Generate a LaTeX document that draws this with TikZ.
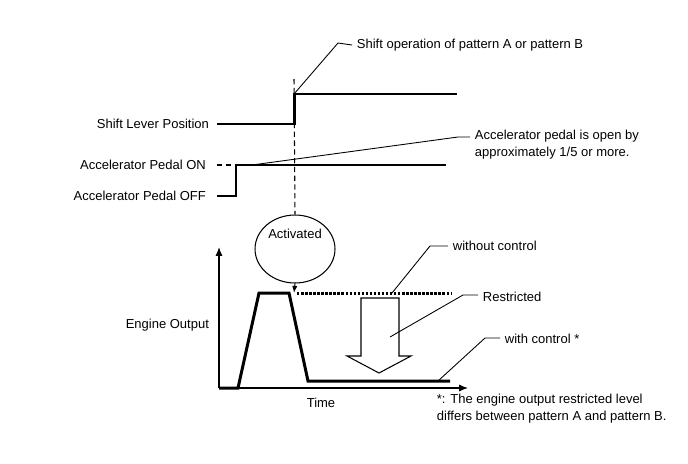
\documentclass[tikz,border=0pt]{standalone}
\usepackage{fontspec}
\setmainfont{Liberation Sans}
\usetikzlibrary{arrows.meta,positioning,shapes.geometric}

\begin{document}
\begin{tikzpicture}[
    x=0.02cm, y=-0.02cm,
    every node/.style={font=\fontsize{7.4}{9.6}\selectfont, inner sep=1pt},
    sigtext/.style={anchor=east},
    note/.style={anchor=west, align=left, inner xsep=2.6pt},
    signal/.style={line width=1.7pt, line join=miter},
    leader/.style={line width=0.5pt},
    guide/.style={line width=0.6pt, dash pattern=on 3pt off 2pt},
    axis/.style={line width=0.7pt, -{Latex[length=5pt,width=4pt]}},
    state/.style={ellipse, draw, line width=0.6pt, minimum width=1.6cm, minimum height=1.36cm}
]
\useasboundingbox (0,0) rectangle (688,463);

% Signal labels
\node[sigtext] (shiftlbl) at (211,124) {Shift Lever Position};
\node[sigtext] (onlbl) at (208,165) {Accelerator Pedal ON};
\node[sigtext] (offlbl) at (208,196) {Accelerator Pedal OFF};
\node[sigtext] (enginelbl) at (211,325) {Engine Output};
\node (timelbl) at (321,403) {Time};

% Waveform points
\coordinate (sl0) at (217,124);
\coordinate (sl1) at (294,124);
\coordinate (sl2) at (294,94);
\coordinate (sl3) at (457,94);
\coordinate (ap0) at (217,196);
\coordinate (ap1) at (236,196);
\coordinate (ap2) at (236,165);
\coordinate (ap3) at (446,165);
\coordinate (apd) at (217,165);
\coordinate (orig) at (219,388);
\coordinate (ytop) at (219,247);
\coordinate (xend) at (468,388);
\coordinate (eo1) at (238,388);
\coordinate (eo2) at (259,293);
\coordinate (eo3) at (289,293);
\coordinate (eo4) at (308,381);
\coordinate (eo5) at (450,381);
\coordinate (nc0) at (297,293);
\coordinate (nc1) at (452,293);
\coordinate (guidetop) at (294,79);
\coordinate (peak) at (294,293);

% Signals
\draw[signal] (sl0) -- (sl1) -- (sl2) -- (sl3);
\draw[signal] (ap0) -- (ap1) -- (ap2) -- (ap3);
\draw[guide] (apd) -- (ap2);

% Activation
\node[state] (act) at (295,249) {};
\node (acttext) at (295,234) {Activated};
\draw[guide] (guidetop) -- (act.north);
\draw[guide, -{Latex[length=4pt,width=3pt]}] (act.south) -- (peak);

% Engine output graph
\draw[axis] (orig) -- (ytop);
\draw[axis] (orig) -- (xend);
\draw[signal] (orig) -- (eo1) -- (eo2) -- (eo3) -- (eo4) -- (eo5);
\draw[line width=1.7pt, dash pattern=on 1.4pt off 0.9pt] (nc0) -- (nc1);
\draw[line width=0.6pt] (361,298) -- (399,298) -- (399,356) -- (411,356)
    -- (379,373) -- (347,356) -- (361,356) -- cycle;

% Notes
\node[note] (shiftnote) at (352,45) {Shift operation of pattern A or pattern B};
\node[note] (accnote) at (470,145) {Accelerator pedal is open by\\approximately 1/5 or more.};
\node[note] (ncnote) at (448,246) {without control};
\node[note] (resnote) at (478,297) {Restricted};
\node[note] (wcnote) at (500,339) {with control *};
\node[note] (footnote) at (432,409) {*: The engine output restricted level\\differs between pattern A and pattern B.};

% Leaders
\draw[leader] (sl2) -- (338,43) -- (shiftnote.west);
\draw[leader] (252,165) -- (458,137) -- (accnote.west |- 0,137);
\draw[leader] (392,293) -- (430,246) -- (ncnote.west);
\draw[leader] (390,337) -- (463,295) -- (resnote.west |- 0,295);
\draw[leader] (438,381) -- (485,338) -- (wcnote.west |- 0,338);

\end{tikzpicture}
\end{document}
